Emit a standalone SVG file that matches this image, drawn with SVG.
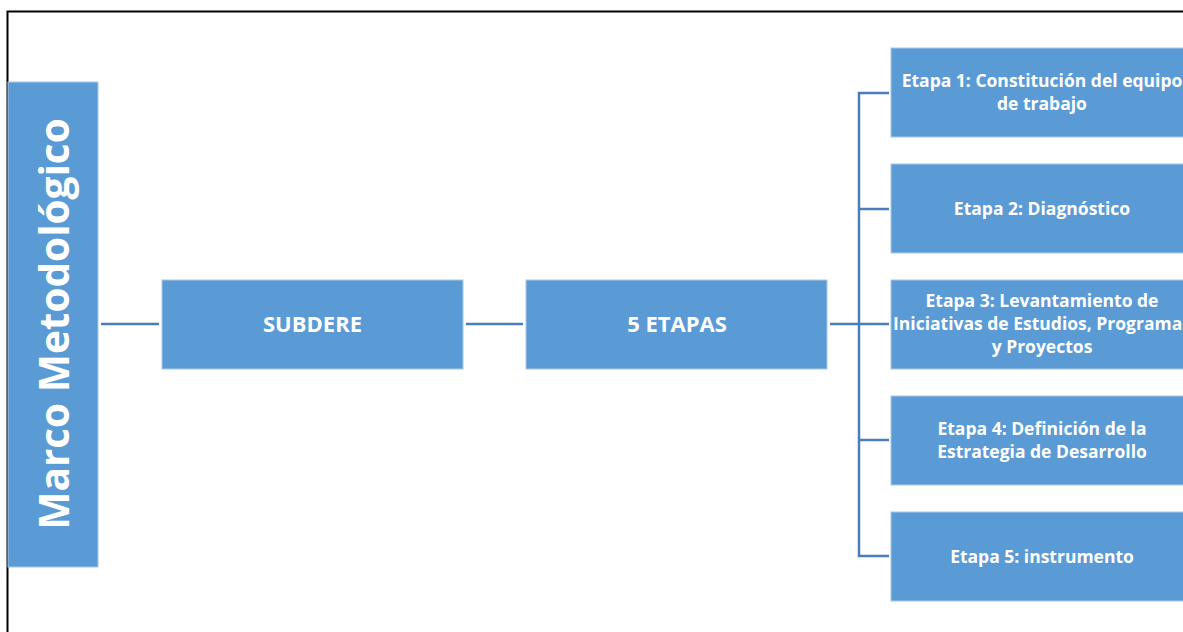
<svg xmlns="http://www.w3.org/2000/svg" width="1183" height="632" viewBox="0 0 1183 632">
<style>
.box{fill:#5B9BD5;stroke:#A9C8EA;stroke-width:1}
.t{font-family:"Open Sans","Noto Sans",sans-serif;font-weight:bold;fill:#fff;text-anchor:middle}
.s{font-size:17.5px}
.m{font-size:22px}
.c{stroke:#4A7EBB;stroke-width:2.5;fill:none}
</style>
<rect width="1183" height="632" fill="#fff"/>
<path d="M7.5 632 V11.5 H1183" stroke="#000" stroke-width="2" fill="none"/>
<g id="connectors">
<path class="c" d="M101 324 H159"/>
<path class="c" d="M466 324 H523"/>
<path class="c" d="M830 324 H889"/>
<path class="c" d="M889 93 H859 V556 H889"/>
<path class="c" d="M859 209 H889"/>
<path class="c" d="M859 440 H889"/>
</g>
<g id="marco">
<rect class="box" x="8" y="82" width="90" height="485"/>
<text class="t" x="0" y="0" font-size="40.5" transform="translate(69 324) rotate(-90)">Marco Metodológico</text>
</g>
<g id="subdere">
<rect class="box" x="162" y="280" width="301" height="89"/>
<text class="t m" x="312.5" y="332">SUBDERE</text>
</g>
<g id="etapas">
<rect class="box" x="526" y="280" width="301" height="89"/>
<text class="t m" x="677" y="332">5 ETAPAS</text>
</g>
<g id="etapa1">
<rect class="box" x="891" y="48" width="301" height="89"/>
<text class="t s" x="1042" y="87">Etapa 1: Constitución del equipo</text>
<text class="t s" x="1042" y="110">de trabajo</text>
</g>
<g id="etapa2">
<rect class="box" x="891" y="164" width="301" height="89"/>
<text class="t s" x="1042" y="215">Etapa 2: Diagnóstico</text>
</g>
<g id="etapa3">
<rect class="box" x="891" y="280" width="301" height="89"/>
<text class="t s" x="1042" y="307">Etapa 3: Levantamiento de</text>
<text class="t s" x="1042" y="330">Iniciativas de Estudios, Programas</text>
<text class="t s" x="1042" y="353">y Proyectos</text>
</g>
<g id="etapa4">
<rect class="box" x="891" y="396" width="301" height="89"/>
<text class="t s" x="1042" y="435">Etapa 4: Definición de la</text>
<text class="t s" x="1042" y="458">Estrategia de Desarrollo</text>
</g>
<g id="etapa5">
<rect class="box" x="891" y="512" width="301" height="89"/>
<text class="t s" x="1042" y="563">Etapa 5: instrumento</text>
</g>
</svg>
